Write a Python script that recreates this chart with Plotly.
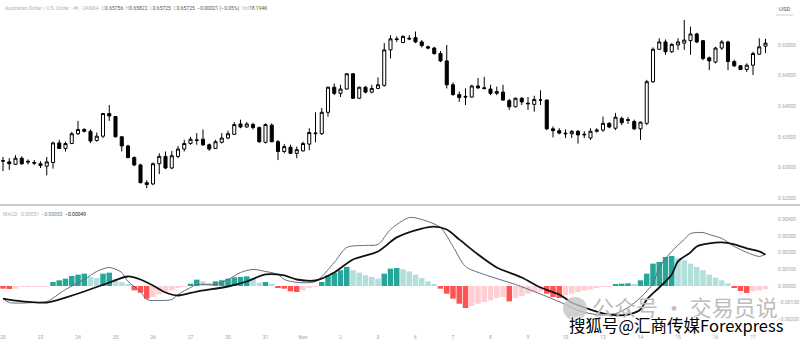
import plotly.graph_objects as go

# ---------------- data ----------------
day_labels = ["20", "23", "24", "25", "26", "27", "30", "31", "Nov", "2", "3",
              "6", "7", "8", "9", "10", "13", "14", "15", "16", "17"]
candles_per_day = 6

open_ = [0.6310, 0.6309, 0.6305, 0.6315, 0.6310, 0.6308, 0.6306, 0.6302, 0.6308, 0.6340,
         0.6331, 0.6339, 0.6355, 0.6362, 0.6359, 0.6344, 0.6351, 0.6388, 0.6383, 0.6350,
         0.6335, 0.6316, 0.6304, 0.6275, 0.6273, 0.6306, 0.6318, 0.6299, 0.6318, 0.6330,
         0.6339, 0.6345, 0.6346, 0.6337, 0.6331, 0.6341, 0.6348, 0.6354, 0.6371, 0.6366,
         0.6370, 0.6365, 0.6341, 0.6369, 0.6342, 0.6326, 0.6333, 0.6323, 0.6327, 0.6338,
         0.6355, 0.6355, 0.6390, 0.6431, 0.6421, 0.6428, 0.6453, 0.6413, 0.6431, 0.6423,
         0.6429, 0.6434, 0.6492, 0.6510, 0.6504, 0.6511, 0.6512, 0.6505, 0.6497, 0.6495,
         0.6486, 0.6474, 0.6435, 0.6419, 0.6416, 0.6415, 0.6433, 0.6430, 0.6428, 0.6421,
         0.6423, 0.6409, 0.6399, 0.6413, 0.6405, 0.6403, 0.6410, 0.6410, 0.6363, 0.6360,
         0.6356, 0.6355, 0.6359, 0.6353, 0.6348, 0.6359, 0.6361, 0.6372, 0.6364, 0.6380,
         0.6378, 0.6375, 0.6363, 0.6372, 0.6440, 0.6493, 0.6505, 0.6489, 0.6500, 0.6503,
         0.6507, 0.6518, 0.6507, 0.6479, 0.6472, 0.6495, 0.6505, 0.6473, 0.6466, 0.6460,
         0.6467, 0.6485, 0.6498]
high = [0.6317, 0.6315, 0.6320, 0.6318, 0.6313, 0.6312, 0.6310, 0.6317, 0.6342, 0.6345,
        0.6342, 0.6358, 0.6376, 0.6364, 0.6362, 0.6357, 0.6389, 0.6402, 0.6384, 0.6351,
        0.6337, 0.6318, 0.6306, 0.6279, 0.6308, 0.6323, 0.6326, 0.6327, 0.6335, 0.6345,
        0.6350, 0.6356, 0.6362, 0.6339, 0.6345, 0.6356, 0.6360, 0.6374, 0.6378, 0.6374,
        0.6373, 0.6367, 0.6372, 0.6372, 0.6345, 0.6338, 0.6337, 0.6334, 0.6342, 0.6364,
        0.6390, 0.6397, 0.6432, 0.6437, 0.6435, 0.6454, 0.6454, 0.6432, 0.6433, 0.6435,
        0.6447, 0.6503, 0.6516, 0.6514, 0.6516, 0.6516, 0.6522, 0.6508, 0.6499, 0.6497,
        0.6490, 0.6500, 0.6439, 0.6424, 0.6429, 0.6435, 0.6446, 0.6448, 0.6435, 0.6432,
        0.6435, 0.6412, 0.6414, 0.6415, 0.6415, 0.6417, 0.6426, 0.6411, 0.6367, 0.6364,
        0.6362, 0.6361, 0.6361, 0.6359, 0.6364, 0.6364, 0.6383, 0.6374, 0.6389, 0.6383,
        0.6382, 0.6378, 0.6375, 0.6443, 0.6496, 0.6511, 0.6509, 0.6503, 0.6511, 0.6541,
        0.6530, 0.6520, 0.6508, 0.6481, 0.6497, 0.6508, 0.6507, 0.6476, 0.6467, 0.6470,
        0.6489, 0.6511, 0.6510]
low = [0.6294, 0.6296, 0.6304, 0.6304, 0.6305, 0.6304, 0.6299, 0.6287, 0.6298, 0.6330,
       0.6326, 0.6338, 0.6353, 0.6357, 0.6340, 0.6342, 0.6348, 0.6376, 0.6349, 0.6326,
       0.6315, 0.6302, 0.6274, 0.6266, 0.6271, 0.6289, 0.6297, 0.6297, 0.6315, 0.6326,
       0.6337, 0.6337, 0.6335, 0.6327, 0.6330, 0.6339, 0.6346, 0.6353, 0.6364, 0.6365,
       0.6362, 0.6340, 0.6339, 0.6341, 0.6312, 0.6323, 0.6322, 0.6315, 0.6326, 0.6328,
       0.6341, 0.6353, 0.6383, 0.6418, 0.6415, 0.6427, 0.6412, 0.6412, 0.6421, 0.6421,
       0.6428, 0.6432, 0.6478, 0.6505, 0.6503, 0.6508, 0.6503, 0.6496, 0.6493, 0.6484,
       0.6472, 0.6429, 0.6417, 0.6407, 0.6402, 0.6414, 0.6428, 0.6427, 0.6418, 0.6418,
       0.6409, 0.6394, 0.6398, 0.6402, 0.6394, 0.6391, 0.6402, 0.6361, 0.6349, 0.6354,
       0.6348, 0.6348, 0.6339, 0.6348, 0.6345, 0.6357, 0.6358, 0.6364, 0.6361, 0.6369,
       0.6371, 0.6361, 0.6345, 0.6369, 0.6438, 0.6492, 0.6484, 0.6487, 0.6492, 0.6492,
       0.6484, 0.6503, 0.6475, 0.6459, 0.6470, 0.6492, 0.6459, 0.6464, 0.6459, 0.6456,
       0.6451, 0.6484, 0.6487]
close = [0.6311, 0.6306, 0.6315, 0.6306, 0.6309, 0.6307, 0.6303, 0.6309, 0.6340, 0.6331,
         0.6339, 0.6355, 0.6362, 0.6359, 0.6343, 0.6351, 0.6388, 0.6384, 0.6350, 0.6335,
         0.6316, 0.6304, 0.6275, 0.6272, 0.6306, 0.6318, 0.6299, 0.6319, 0.6330, 0.6339,
         0.6346, 0.6344, 0.6337, 0.6330, 0.6342, 0.6348, 0.6355, 0.6370, 0.6366, 0.6371,
         0.6365, 0.6342, 0.6370, 0.6342, 0.6326, 0.6334, 0.6323, 0.6329, 0.6339, 0.6357,
         0.6356, 0.6390, 0.6431, 0.6421, 0.6428, 0.6453, 0.6413, 0.6431, 0.6423, 0.6429,
         0.6435, 0.6492, 0.6510, 0.6509, 0.6514, 0.6510, 0.6505, 0.6499, 0.6495, 0.6486,
         0.6474, 0.6435, 0.6419, 0.6414, 0.6415, 0.6433, 0.6430, 0.6429, 0.6421, 0.6424,
         0.6410, 0.6399, 0.6413, 0.6407, 0.6404, 0.6411, 0.6410, 0.6363, 0.6360, 0.6356,
         0.6355, 0.6359, 0.6353, 0.6354, 0.6359, 0.6361, 0.6372, 0.6366, 0.6382, 0.6373,
         0.6377, 0.6363, 0.6374, 0.6440, 0.6493, 0.6505, 0.6489, 0.6501, 0.6505, 0.6508,
         0.6518, 0.6505, 0.6478, 0.6474, 0.6495, 0.6505, 0.6473, 0.6466, 0.6460, 0.6467,
         0.6486, 0.6497, 0.6503]

hist = [-0.00016, -0.00018, -0.00016, -0.00006, -0.00004, -0.00003, -0.00002, -0.00001,
        0.00024, 0.00034, 0.00044, 0.00060, 0.00068, 0.00074, 0.00054, 0.00048, 0.00074,
        0.00080, 0.00044, 0.00024, 0.00008, -0.00026, -0.00040, -0.00076, -0.00066,
        -0.00050, -0.00036, -0.00026, -0.00012, -0.00004, 0.00014, 0.00038, 0.00028,
        0.00018, 0.00028, 0.00034, 0.00044, 0.00052, 0.00054, 0.00058, 0.00048, 0.00020,
        0.00024, 0.00008, -0.00008, -0.00016, -0.00032, -0.00036, -0.00026, -0.00012,
        -0.00006, 0.00024, 0.00064, 0.00080, 0.00094, 0.00114, 0.00094, 0.00080, 0.00064,
        0.00054, 0.00044, 0.00074, 0.00104, 0.00108, 0.00100, 0.00088, 0.00068, 0.00048,
        0.00028, 0.00008, -0.00016, -0.00046, -0.00076, -0.00106, -0.00132, -0.00120,
        -0.00106, -0.00096, -0.00086, -0.00072, -0.00066, -0.00092, -0.00072, -0.00060,
        -0.00046, -0.00036, -0.00032, -0.00046, -0.00066, -0.00072, -0.00056, -0.00046,
        -0.00036, -0.00026, -0.00020, -0.00012, -0.00006, -0.00002, 0.00010, 0.00014,
        0.00016, 0.00010, 0.00034, 0.00074, 0.00134, 0.00144, 0.00174, 0.00180, 0.00168,
        0.00154, 0.00134, 0.00114, 0.00094, 0.00068, 0.00050, 0.00034, 0.00016, -0.00010,
        -0.00030, -0.00042, -0.00032, -0.00026, -0.00020]

macd_idx = [0, 1, 5, 7, 10, 13, 15, 17, 19, 20, 22, 23, 25, 27, 28, 30, 31, 34, 36, 38,
            40, 42, 44, 45, 47, 50, 53, 55, 58, 60, 62, 65, 67, 70, 72, 74, 77, 82, 85,
            87, 90, 92, 95, 98, 100, 102, 104, 105, 107, 109, 110, 112, 113, 115, 117,
            119, 121, 122]
macd_val = [-0.00075, -0.00099, -0.00099, -0.00093, -0.00021, 0.00039, 0.00087, 0.00111,
            0.00081, 0.00027, -0.00033, -0.00081, -0.00087, -0.00081, -0.00051, -0.00009,
            0.00009, 0.00009, 0.00039, 0.00081, 0.00099, 0.00087, 0.00069, 0.00039,
            0.00022, 0.00027, 0.00141, 0.00231, 0.00243, 0.00249, 0.00338, 0.00410,
            0.00398, 0.00350, 0.00237, 0.00117, 0.00069, 0.00009, -0.00033, -0.00063,
            -0.00111, -0.00147, -0.00171, -0.00165, -0.00129, -0.00069, 0.00015, 0.00111,
            0.00207, 0.00279, 0.00314, 0.00320, 0.00308, 0.00285, 0.00237, 0.00201,
            0.00177, 0.00189]

signal_idx = [0, 2, 7, 10, 13, 17, 20, 22, 24, 26, 28, 31, 36, 39, 42, 45, 47, 50, 53,
              56, 60, 63, 67, 69, 71, 73, 76, 79, 83, 86, 89, 91, 94, 97, 100, 102, 103,
              105, 107, 108, 110, 111, 113, 115, 117, 119, 121, 122]
signal_val = [-0.00075, -0.00087, -0.00099, -0.00069, -0.00033, 0.00021, 0.00057, 0.00039,
              0.00003, -0.00039, -0.00057, -0.00033, -0.00003, 0.00027, 0.00069, 0.00063,
              0.00039, 0.00033, 0.00081, 0.00159, 0.00207, 0.00291, 0.00344, 0.00356,
              0.00338, 0.00279, 0.00189, 0.00111, 0.00051, -0.00009, -0.00051, -0.00099,
              -0.00141, -0.00171, -0.00171, -0.00141, -0.00081, -0.00009, 0.00069, 0.00147,
              0.00201, 0.00237, 0.00255, 0.00261, 0.00249, 0.00225, 0.00207, 0.00189]

price_ticks = [0.625, 0.630, 0.635, 0.640, 0.645, 0.650]
macd_ticks = [-0.002, -0.001, 0.0, 0.001, 0.002, 0.003, 0.004]

header_name = "Australian Dollar / U.S. Dollar · 4h · OANDA"
header_vals = [("O", "0.65756"), ("H", "0.65822"), ("L", "0.65725"), ("C", "0.65725")]
header_change = "−0.00021 (−0.05%)"
header_vol = ("Vol", "18.194K")
macd_header = ["MACD", "0.00051", "−0.00053", "−0.00049"]

# ---------------- figure ----------------
idx = list(range(len(close)))
tick_idx = [i * candles_per_day for i in range(len(day_labels))]

# histogram colours (TradingView rule: grow / fall above / below zero)
hcol = []
for i, v in enumerate(hist):
    prev = hist[i - 1] if i > 0 else 0
    if v >= 0:
        hcol.append("#26A69A" if v >= prev else "#B2DFDB")
    else:
        hcol.append("#FF5252" if v < prev else "#FFCDD2")

W, H = 800, 343
ML, MR, MT, MB = 0, 27, 0, 16
PW, PH = W - ML - MR, H - MT - MB
GRAY = "#a3a3a3"
FONT = "Roboto"

fig = go.Figure()
fig.add_trace(go.Candlestick(
    x=idx, open=open_, high=high, low=low, close=close,
    xaxis="x", yaxis="y", whiskerwidth=0,
    increasing=dict(line=dict(color="#000000", width=1), fillcolor="#ffffff"),
    decreasing=dict(line=dict(color="#000000", width=1), fillcolor="#000000"),
    hoverinfo="skip"))
fig.add_trace(go.Bar(x=idx, y=hist, marker=dict(color=hcol, line=dict(width=0)),
                     xaxis="x2", yaxis="y2", hoverinfo="skip"))
fig.add_trace(go.Scatter(x=macd_idx, y=macd_val, mode="lines", xaxis="x2", yaxis="y2",
                         line=dict(color="#5f6d80", width=1, shape="spline", smoothing=0.8),
                         hoverinfo="skip"))
fig.add_trace(go.Scatter(x=signal_idx, y=signal_val, mode="lines", xaxis="x2", yaxis="y2",
                         line=dict(color="#111111", width=1.8, shape="spline", smoothing=0.8),
                         hoverinfo="skip"))

xr = [-0.48, -0.48 + PW / 6.25]
axis_font = dict(family=FONT, size=5, color=GRAY)
fig.update_layout(
    width=W, height=H, margin=dict(l=ML, r=MR, t=MT, b=MB),
    paper_bgcolor="white", plot_bgcolor="white", showlegend=False, bargap=0.12,
    xaxis=dict(domain=[0, 1], range=xr, anchor="y", showticklabels=False, showgrid=False,
               zeroline=False, rangeslider=dict(visible=False), showline=False, ticks=""),
    xaxis2=dict(domain=[0, 1], range=xr, anchor="y2", showgrid=False, zeroline=False,
                tickvals=tick_idx, ticktext=day_labels, tickfont=axis_font, ticks="",
                ticklabelstandoff=6, showline=False),
    yaxis=dict(domain=[1 - 204 / PH, 1], range=[0.62402, 0.65735], side="right",
               anchor="x", tickvals=price_ticks, tickformat=".5f", tickfont=axis_font,
               showgrid=False, zeroline=False, ticks="", ticklabelstandoff=4),
    yaxis2=dict(domain=[0, 121 / PH], range=[-0.002455, 0.00479], side="right",
                anchor="x2", tickvals=macd_ticks, tickformat=".5f", tickfont=axis_font,
                showgrid=False, zeroline=False, ticks="", ticklabelstandoff=4),
)

def px(xp):
    return (xp - ML) / PW

def py(yp):
    return (H - MB - yp) / PH

# pane separator and currency label
fig.add_shape(type="line", xref="paper", yref="paper", x0=0, x1=px(W), y0=py(205), y1=py(205),
              line=dict(color="#b9b9b9", width=1.5))
fig.add_shape(type="line", xref="paper", yref="paper", x0=px(776), x1=px(793), y0=py(15),
              y1=py(15), line=dict(color="#d0d0d0", width=1))
fig.add_annotation(xref="paper", yref="paper", x=px(777), y=py(3), xanchor="left",
                   yanchor="top", showarrow=False, text="USD",
                   font=dict(family=FONT, size=6, color="#555555"))

# header legend
parts = [f'<span style="color:#b0b0b0">{header_name}</span>']
for k, v in header_vals:
    parts.append(f'<span style="color:#b0b0b0">{k}</span><span style="color:#555">{v}</span>')
parts.append(f'<span style="color:#555">{header_change}</span>')
parts.append(f'<span style="color:#b0b0b0">{header_vol[0]}</span>'
             f'<span style="color:#555">{header_vol[1]}</span>')
fig.add_annotation(xref="paper", yref="paper", x=px(3), y=py(3), xanchor="left",
                   yanchor="top", showarrow=False, text="  ".join(parts),
                   font=dict(family=FONT, size=5, color="#555"))

mh = (f'<span style="color:#b0b0b0">{macd_header[0]}</span>   '
      f'<span style="color:#9fb4c8">{macd_header[1]}</span>  '
      f'<span style="color:#6a7f98">{macd_header[2]}</span>  '
      f'<span style="color:#222">{macd_header[3]}</span>')
fig.add_annotation(xref="paper", yref="paper", x=px(1), y=py(209), xanchor="left",
                   yanchor="top", showarrow=False, text=mh,
                   font=dict(family=FONT, size=5, color="#555"))

# watermarks
fig.add_shape(type="circle", xref="paper", yref="paper", x0=px(563), x1=px(587),
              y0=py(320), y1=py(297), fillcolor="#c4c4c4", line=dict(width=0), opacity=0.8)
fig.add_annotation(xref="paper", yref="paper", x=px(685), y=py(306), showarrow=False,
                   xanchor="center", yanchor="middle",
                   text="公众号 · 交易员说",
                   font=dict(family="Noto Sans CJK SC", size=22, color="#bdbdbd"))
fig.add_annotation(xref="paper", yref="paper", x=px(676), y=py(325), showarrow=False,
                   xanchor="center", yanchor="middle",
                   text="搜狐号@汇商传媒Forexpress",
                   font=dict(family="Noto Sans CJK SC", size=16.5, color="#000000",
                             shadow="1px 1px 0 #fff, -1px -1px 0 #fff, 1px -1px 0 #fff, -1px 1px 0 #fff"))

fig.write_html("out.html")
